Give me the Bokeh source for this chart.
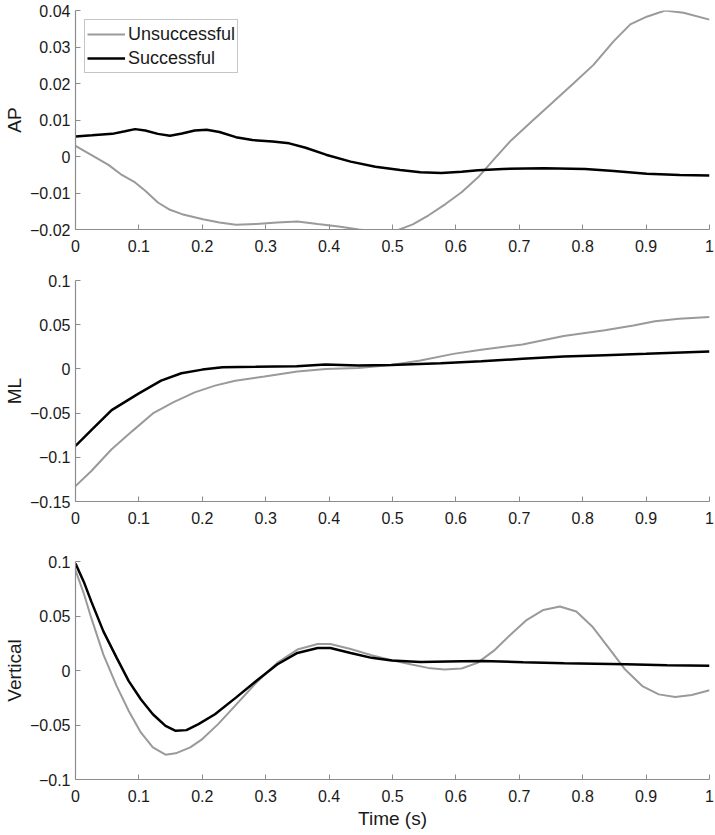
from bokeh.plotting import figure
from bokeh.layouts import column
from bokeh.models import Range1d, FixedTicker
from bokeh.embed import file_html
from bokeh.resources import INLINE

# ---------------- data ----------------
t_ticks = [0, 0.1, 0.2, 0.3, 0.4, 0.5, 0.6, 0.7, 0.8, 0.9, 1]
t_tick_labels = ["0", "0.1", "0.2", "0.3", "0.4", "0.5", "0.6", "0.7", "0.8", "0.9", "1"]

ap_ticks = [-0.02, -0.01, 0, 0.01, 0.02, 0.03, 0.04]
ap_tick_labels = ["\u22120.02", "\u22120.01", "0", "0.01", "0.02", "0.03", "0.04"]
ml_ticks = [-0.15, -0.1, -0.05, 0, 0.05, 0.1]
ml_tick_labels = ["\u22120.15", "\u22120.1", "\u22120.05", "0", "0.05", "0.1"]
vt_ticks = [-0.1, -0.05, 0, 0.05, 0.1]
vt_tick_labels = ["\u22120.1", "\u22120.05", "0", "0.05", "0.1"]

series_names = ["Unsuccessful", "Successful"]

# AP panel
ap_t_succ = [0, 0.026, 0.058, 0.078, 0.094, 0.11, 0.13, 0.149, 0.168, 0.188, 0.207, 0.227,
             0.253, 0.279, 0.311, 0.337, 0.363, 0.395, 0.434, 0.473, 0.512, 0.544, 0.577,
             0.609, 0.635, 0.674, 0.739, 0.804, 0.849, 0.901, 0.953, 1.0]
ap_succ = [0.0055, 0.0058, 0.0062, 0.0069, 0.0075, 0.0071, 0.0062, 0.0057, 0.0063, 0.0071,
           0.0073, 0.0067, 0.0053, 0.0045, 0.0041, 0.0036, 0.0024, 0.0005, -0.0014, -0.0028,
           -0.0037, -0.0043, -0.0045, -0.0042, -0.0038, -0.0034, -0.0032, -0.0034, -0.004,
           -0.0047, -0.0051, -0.0052]
ap_t_uns = [0, 0.026, 0.052, 0.071, 0.094, 0.11, 0.13, 0.149, 0.168, 0.201, 0.227, 0.253,
            0.285, 0.318, 0.35, 0.382, 0.415, 0.447, 0.48, 0.506, 0.532, 0.557, 0.583, 0.609,
            0.635, 0.661, 0.687, 0.719, 0.752, 0.784, 0.817, 0.849, 0.875, 0.901, 0.93,
            0.959, 1.0]
ap_uns = [0.0029, 0.0003, -0.0023, -0.0048, -0.0071, -0.0094, -0.0126, -0.0146, -0.0158,
          -0.0172, -0.0181, -0.0187, -0.0185, -0.0181, -0.0178, -0.0185, -0.0192, -0.02,
          -0.0207, -0.0203, -0.0186, -0.0161, -0.0131, -0.0098, -0.0057, -0.0006, 0.0044,
          0.0095, 0.0147, 0.0198, 0.0251, 0.0316, 0.0362, 0.0383, 0.04, 0.0394, 0.0375]

# ML panel
ml_t_succ = [0, 0.025, 0.057, 0.1, 0.135, 0.167, 0.2, 0.232, 0.284, 0.349, 0.394, 0.446,
             0.498, 0.576, 0.64, 0.705, 0.77, 0.835, 0.9, 1.0]
ml_succ = [-0.0871, -0.0693, -0.0466, -0.0277, -0.0133, -0.0049, -0.0008, 0.0019, 0.0023,
           0.003, 0.0049, 0.0038, 0.0045, 0.0064, 0.0087, 0.0114, 0.014, 0.0155, 0.017, 0.0197]
ml_t_uns = [0, 0.025, 0.057, 0.09, 0.122, 0.154, 0.188, 0.22, 0.252, 0.298, 0.35, 0.395,
            0.446, 0.498, 0.544, 0.596, 0.64, 0.705, 0.77, 0.835, 0.88, 0.914, 0.952, 1.0]
ml_uns = [-0.1326, -0.1155, -0.0909, -0.0701, -0.0504, -0.0379, -0.0265, -0.0189, -0.0133,
          -0.0087, -0.003, 0.0, 0.0011, 0.0045, 0.0095, 0.017, 0.0216, 0.0277, 0.0371,
          0.0436, 0.0492, 0.0538, 0.0568, 0.0587]

# Vertical panel
vt_t_succ = [0, 0.013, 0.025, 0.044, 0.065, 0.084, 0.103, 0.122, 0.142, 0.158, 0.175, 0.194,
             0.22, 0.253, 0.285, 0.318, 0.35, 0.382, 0.402, 0.434, 0.467, 0.499, 0.544, 0.609,
             0.642, 0.706, 0.771, 0.868, 0.933, 1.0]
vt_succ = [0.0982, 0.0815, 0.0632, 0.0359, 0.0116, -0.0097, -0.0264, -0.0401, -0.0508,
           -0.0553, -0.0547, -0.0492, -0.0401, -0.0249, -0.0097, 0.0055, 0.0161, 0.0207,
           0.0207, 0.0161, 0.0116, 0.0091, 0.0079, 0.0085, 0.0088, 0.0076, 0.0067, 0.0058,
           0.0049, 0.0043]
vt_t_uns = [0, 0.013, 0.025, 0.044, 0.065, 0.084, 0.103, 0.122, 0.142, 0.158, 0.181, 0.2,
            0.225, 0.253, 0.285, 0.318, 0.35, 0.382, 0.402, 0.434, 0.467, 0.499, 0.53, 0.556,
            0.582, 0.609, 0.634, 0.66, 0.686, 0.712, 0.738, 0.764, 0.79, 0.815, 0.841, 0.867,
            0.894, 0.92, 0.946, 0.972, 1.0]
vt_uns = [0.092, 0.0708, 0.048, 0.0146, -0.0143, -0.0371, -0.0568, -0.0705, -0.0772, -0.076,
          -0.0705, -0.0629, -0.0492, -0.0316, -0.0112, 0.007, 0.0192, 0.0243, 0.0243, 0.0198,
          0.014, 0.0094, 0.0055, 0.0024, 0.0009, 0.0018, 0.007, 0.0182, 0.0328, 0.0465,
          0.0556, 0.0587, 0.0541, 0.0404, 0.0207, 0.0009, -0.0143, -0.0219, -0.0243, -0.0225,
          -0.0182]

# ---------------- styling ----------------
FONT = "Liberation Sans"
AXIS_COLOR = "#8c8c8c"
TEXT_COLOR = "#1a1a1a"
GRAY = "#9a9a9a"
BLACK = "#000000"


def make_fig(height, top_b, bottom_b, y0, y1, yticks, ylabels, ylabel, xlabel=None):
    p = figure(width=715, height=height, x_range=Range1d(0, 1), y_range=Range1d(y0, y1),
               output_backend="svg", toolbar_location=None,
               min_border_left=75, min_border_right=6,
               min_border_top=top_b, min_border_bottom=bottom_b)
    p.outline_line_color = None
    p.grid.visible = False
    p.background_fill_color = "white"
    p.border_fill_color = "white"

    p.xaxis.ticker = FixedTicker(ticks=t_ticks)
    p.xaxis.major_label_overrides = dict(zip(t_ticks, t_tick_labels))
    p.yaxis.ticker = FixedTicker(ticks=yticks)
    p.yaxis.major_label_overrides = dict(zip(yticks, ylabels))

    for ax in (p.xaxis[0], p.yaxis[0]):
        ax.axis_line_color = AXIS_COLOR
        ax.axis_line_width = 1.2
        ax.major_tick_line_color = AXIS_COLOR
        ax.major_tick_in = 5
        ax.major_tick_out = 0
        ax.minor_tick_line_color = None
        ax.major_label_text_font = FONT
        ax.major_label_text_font_size = "16px"
        ax.major_label_text_color = TEXT_COLOR
        ax.axis_label_text_font = FONT
        ax.axis_label_text_font_size = "19px"
        ax.axis_label_text_font_style = "normal"
        ax.axis_label_text_color = TEXT_COLOR

    p.xaxis.major_label_standoff = 10
    p.yaxis.major_label_standoff = 5
    p.yaxis.axis_label = ylabel
    p.yaxis.axis_label_standoff = 2
    if xlabel:
        p.xaxis.axis_label = xlabel
        p.xaxis.axis_label_standoff = 3
    return p


p1 = make_fig(262, 10, 33, -0.02, 0.04, ap_ticks, ap_tick_labels, "AP")
p1.line(ap_t_uns, ap_uns, line_color=GRAY, line_width=2, legend_label=series_names[0])
p1.line(ap_t_succ, ap_succ, line_color=BLACK, line_width=2.5, legend_label=series_names[1])
lg = p1.legend[0]
lg.location = "top_left"
lg.margin = 9
lg.padding = 2
lg.spacing = 0
lg.glyph_width = 38
lg.glyph_height = 24
lg.label_height = 24
lg.label_standoff = 3
lg.label_text_font = FONT
lg.label_text_font_size = "18px"
lg.label_text_color = TEXT_COLOR
lg.border_line_color = AXIS_COLOR
lg.border_line_width = 1
lg.background_fill_alpha = 1

p2 = make_fig(278, 18, 39, -0.15, 0.1, ml_ticks, ml_tick_labels, "ML")
p2.line(ml_t_uns, ml_uns, line_color=GRAY, line_width=2)
p2.line(ml_t_succ, ml_succ, line_color=BLACK, line_width=2.5)

p3 = make_fig(294, 21, 55, -0.1, 0.1, vt_ticks, vt_tick_labels, "Vertical", "Time (s)")
p3.line(vt_t_uns, vt_uns, line_color=GRAY, line_width=2)
p3.line(vt_t_succ, vt_succ, line_color=BLACK, line_width=2.5)

layout = column(p1, p2, p3, spacing=0)
open("out.html", "w").write(file_html(layout, INLINE))
